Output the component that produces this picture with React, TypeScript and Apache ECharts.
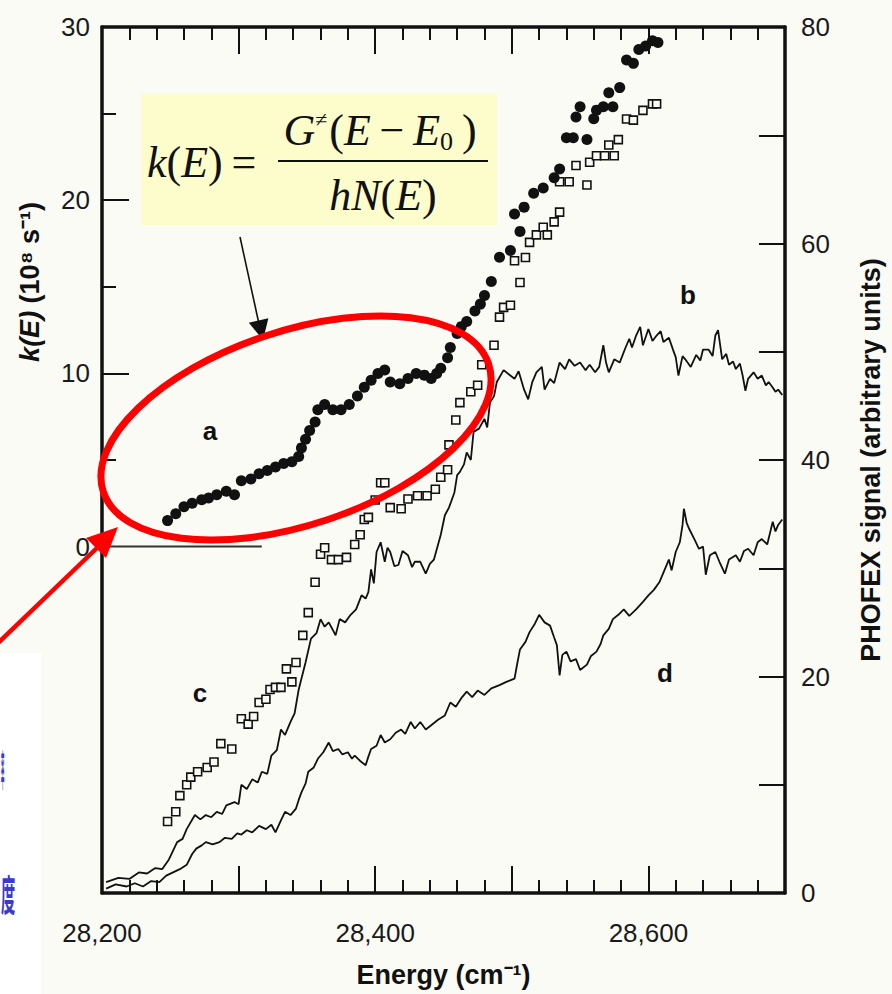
import React, { useEffect, useRef } from "react";
import * as echarts from "echarts";

// ---- tick labels ----
const energyTickLabels = [28200, 28400, 28600];
const kTickLabels = [0, 10, 20, 30];
const kMajorTicks = [10, 20, 30];
const kMinorTicks = [5, 15, 25];
const phofexTickLabels = [0, 20, 40, 60, 80];

// ---- a: k(E), filled circles (left axis, 10^8 s^-1) ----
const seriesA: [number, number][] = [
  [28248, 1.5], [28254, 1.9], [28260, 2.3], [28266, 2.5], [28273, 2.7], [28278, 2.8],
  [28284, 3.0], [28291, 3.2], [28297, 3.0], [28302, 3.8], [28309, 3.9], [28315, 4.2],
  [28321, 4.4], [28327, 4.6], [28333, 4.8], [28339, 4.9], [28344, 5.2], [28346, 5.7],
  [28349, 6.2], [28352, 6.7], [28356, 7.2], [28358, 7.9], [28363, 8.2], [28369, 7.9],
  [28375, 7.9], [28381, 8.2], [28387, 8.7], [28392, 9.2], [28397, 9.6], [28402, 10.0],
  [28407, 10.2], [28411, 9.5], [28418, 9.4], [28424, 9.7], [28430, 10.0], [28436, 9.9],
  [28441, 9.7], [28445, 10.0], [28448, 10.3], [28453, 10.9], [28455, 11.5], [28460, 12.3],
  [28463, 12.7], [28467, 13.0], [28473, 13.6], [28477, 14.0], [28480, 14.5], [28485, 15.3],
  [28491, 16.7], [28499, 17.1], [28502, 19.2], [28506, 18.2], [28509, 19.6], [28516, 20.4],
  [28523, 20.7], [28531, 21.3], [28535, 21.8], [28540, 23.6], [28545, 23.6], [28547, 24.8],
  [28550, 25.4], [28555, 23.5], [28560, 24.7], [28562, 25.2], [28567, 25.4], [28571, 26.2],
  [28574, 25.4], [28579, 26.5], [28584, 28.1], [28589, 27.9], [28593, 28.7], [28598, 28.9],
  [28603, 29.2], [28607, 29.1],
];

// ---- c: open squares (right axis) ----
const seriesC: [number, number][] = [
  [28248, 6.6], [28254, 7.5], [28257, 9.0], [28262, 10.0], [28265, 10.7], [28270, 11.2],
  [28277, 11.6], [28282, 12.1], [28287, 13.8], [28295, 13.3], [28302, 16.1], [28307, 15.6],
  [28311, 16.3], [28315, 17.6], [28320, 17.9], [28323, 18.8], [28327, 19.0], [28331, 19.0],
  [28335, 20.7], [28339, 19.5], [28342, 21.3], [28347, 23.8], [28351, 25.9], [28356, 28.7],
  [28360, 31.3], [28363, 31.9], [28368, 30.8], [28373, 30.8], [28379, 31.0], [28385, 32.2],
  [28389, 33.1], [28392, 34.5], [28395, 34.7], [28400, 36.3], [28404, 37.9], [28407, 37.9],
  [28411, 35.6], [28419, 35.5], [28424, 36.4], [28431, 36.7], [28438, 36.7], [28444, 37.3],
  [28448, 38.4], [28453, 39.1], [28454, 41.4], [28459, 43.7], [28462, 45.3], [28470, 46.3],
  [28475, 46.9], [28478, 48.8], [28487, 50.6], [28491, 53.2], [28494, 54.1], [28499, 54.3],
  [28502, 58.4], [28506, 56.4], [28510, 58.7], [28513, 60.1], [28518, 60.8], [28523, 61.5],
  [28526, 60.8], [28531, 62.0], [28535, 62.9], [28535, 65.7], [28542, 65.7], [28547, 67.2],
  [28555, 65.4], [28557, 67.5], [28562, 68.1], [28568, 68.1], [28571, 69.1], [28575, 68.1],
  [28578, 69.6], [28584, 71.5], [28589, 71.4], [28596, 72.3], [28603, 72.9], [28606, 72.9],
];

// ---- b: upper PHOFEX trace (right axis) ----
const seriesB: [number, number][] = [
  [28203, 1.0], [28212, 1.4], [28220, 1.3], [28227, 1.9], [28233, 1.8], [28239, 2.3],
  [28244, 2.2], [28249, 3.1], [28255, 4.7], [28259, 5.0], [28262, 5.9], [28268, 7.2],
  [28272, 6.8], [28276, 7.2], [28280, 7.0], [28284, 7.5], [28288, 7.3], [28291, 8.1],
  [28297, 8.4], [28300, 8.2], [28302, 10.0], [28306, 9.6], [28310, 10.5], [28314, 10.2],
  [28317, 11.2], [28321, 11.0], [28324, 12.7], [28328, 13.2], [28331, 15.1], [28334, 14.6],
  [28338, 15.8], [28341, 16.6], [28344, 18.8], [28349, 21.3], [28353, 23.5], [28357, 24.0],
  [28360, 25.3], [28363, 24.6], [28366, 25.0], [28369, 24.3], [28371, 23.8], [28374, 25.3],
  [28378, 25.0], [28382, 25.7], [28386, 26.2], [28390, 27.5], [28393, 27.2], [28395, 27.8],
  [28397, 29.9], [28399, 28.6], [28401, 31.5], [28404, 32.4], [28407, 30.6], [28409, 31.9],
  [28411, 31.5], [28414, 30.2], [28417, 30.3], [28420, 31.6], [28424, 31.2], [28427, 30.1],
  [28429, 30.6], [28433, 30.6], [28437, 29.5], [28440, 30.4], [28443, 30.8], [28448, 33.1],
  [28451, 34.9], [28454, 35.6], [28458, 37.0], [28460, 38.6], [28462, 38.9], [28465, 39.6],
  [28467, 40.7], [28470, 40.0], [28472, 42.6], [28476, 42.9], [28480, 43.8], [28482, 43.0],
  [28484, 45.3], [28487, 45.9], [28489, 47.2], [28494, 48.3], [28498, 47.9], [28502, 47.5],
  [28505, 48.2], [28509, 46.5], [28512, 45.6], [28515, 47.2], [28518, 48.1], [28522, 48.6],
  [28524, 46.5], [28528, 47.5], [28531, 47.1], [28535, 49.0], [28539, 48.4], [28542, 49.3],
  [28546, 48.7], [28550, 49.0], [28554, 48.3], [28557, 48.8], [28561, 48.1], [28564, 48.6],
  [28567, 50.6], [28569, 49.0], [28571, 48.1], [28575, 49.3], [28579, 49.0], [28583, 50.3],
  [28586, 51.2], [28588, 50.4], [28591, 51.5], [28594, 52.3], [28596, 50.6], [28600, 52.1],
  [28603, 51.0], [28606, 51.5], [28609, 51.9], [28611, 50.9], [28615, 51.3], [28618, 50.2],
  [28620, 49.5], [28622, 47.8], [28625, 49.6], [28627, 49.3], [28631, 48.6], [28635, 49.7],
  [28638, 49.2], [28640, 50.2], [28644, 50.2], [28647, 49.6], [28649, 51.5], [28651, 52.0],
  [28654, 49.3], [28657, 49.8], [28659, 48.8], [28662, 49.1], [28664, 48.4], [28667, 48.9],
  [28669, 47.8], [28671, 46.4], [28673, 47.5], [28677, 48.1], [28680, 47.5], [28683, 47.8],
  [28686, 46.9], [28688, 47.2], [28691, 46.7], [28693, 46.3], [28695, 46.5], [28698, 46.0],
];

// ---- d: lower PHOFEX trace (right axis) ----
const seriesD: [number, number][] = [
  [28203, 0.4], [28210, 0.8], [28218, 0.6], [28224, 0.9], [28230, 0.6], [28236, 1.1],
  [28242, 1.0], [28247, 1.6], [28252, 1.9], [28257, 2.2], [28262, 2.6], [28266, 3.6],
  [28269, 4.1], [28273, 4.4], [28276, 4.7], [28281, 4.5], [28286, 4.7], [28290, 5.1],
  [28295, 5.0], [28299, 5.5], [28302, 5.4], [28306, 5.8], [28310, 5.6], [28315, 6.2],
  [28320, 5.9], [28324, 6.3], [28327, 5.6], [28331, 6.7], [28334, 7.5], [28338, 7.2],
  [28342, 7.8], [28344, 8.6], [28346, 9.3], [28349, 10.1], [28351, 11.2], [28355, 11.6],
  [28358, 12.4], [28362, 13.0], [28366, 13.9], [28369, 13.1], [28373, 13.3], [28376, 12.8],
  [28380, 13.0], [28383, 12.4], [28385, 12.7], [28389, 12.2], [28393, 11.8], [28395, 12.6],
  [28397, 13.3], [28401, 13.6], [28404, 14.6], [28407, 13.9], [28411, 14.2], [28415, 14.8],
  [28419, 15.1], [28422, 14.7], [28426, 15.8], [28429, 15.2], [28433, 15.8], [28437, 15.1],
  [28441, 15.5], [28446, 16.0], [28451, 16.4], [28455, 17.6], [28459, 17.2], [28463, 18.0],
  [28467, 18.6], [28471, 18.1], [28475, 18.7], [28480, 18.3], [28485, 18.9], [28491, 19.2],
  [28496, 19.5], [28502, 19.8], [28504, 21.2], [28506, 22.5], [28510, 23.2], [28513, 24.1],
  [28517, 24.9], [28520, 25.7], [28524, 25.0], [28528, 24.7], [28531, 23.6], [28533, 22.9],
  [28535, 20.1], [28537, 22.0], [28540, 22.3], [28543, 21.4], [28547, 21.6], [28550, 20.6],
  [28555, 21.1], [28558, 21.9], [28562, 22.3], [28565, 23.0], [28567, 23.8], [28571, 24.4],
  [28574, 25.3], [28578, 25.7], [28582, 26.2], [28586, 25.6], [28591, 26.2], [28596, 26.9],
  [28600, 27.5], [28604, 28.0], [28608, 28.7], [28612, 29.9], [28615, 30.8], [28617, 29.8],
  [28620, 31.5], [28623, 32.4], [28625, 34.0], [28626, 35.5], [28628, 34.2], [28630, 33.6],
  [28634, 32.6], [28637, 31.8], [28640, 32.0], [28642, 29.4], [28645, 31.2], [28649, 31.5],
  [28652, 30.6], [28656, 29.5], [28659, 30.8], [28664, 31.2], [28667, 30.6], [28670, 31.6],
  [28673, 31.8], [28677, 31.2], [28680, 32.4], [28683, 32.7], [28687, 32.2], [28691, 34.3],
  [28693, 33.4], [28695, 34.0], [28698, 34.5],
];

// k(E) = 0 baseline
const kZeroLine: [number, number][] = [[28200, 0], [28317, 0]];

const SANS = "'Liberation Sans', Arial, Helvetica, sans-serif";
const SERIF = "'Liberation Serif', 'Times New Roman', serif";
const CJK = "'Noto Sans CJK SC', sans-serif";
const INK = "#111111";
const BG = "#fbfbf6";

function buildOption(): any {
  const frame = () => ({ show: true, onZero: false, lineStyle: { color: INK, width: 3.5 } });
  const tickStyle = () => ({ color: INK, width: 2 });
  const labelStyle = () => ({ color: "#1a1a1a", fontSize: 26, fontFamily: SANS });

  const xCommon = () => ({
    type: "value",
    min: 28200,
    max: 28700,
    interval: 100,
    axisLine: frame(),
    axisTick: { show: true, inside: true, length: 27, lineStyle: tickStyle() },
    minorTick: { show: true, splitNumber: 5, length: 13, lineStyle: tickStyle() },
    splitLine: { show: false },
    minorSplitLine: { show: false },
  });

  const txt = (x: number, y: number, text: string, extra: any = {}) => ({
    type: "text",
    x,
    y,
    z: 120,
    silent: true,
    style: { text, fill: INK, ...extra },
  });

  const mathRich = {
    i: { fontSize: 44, fontStyle: "italic", fontFamily: SERIF, fill: INK },
    n: { fontSize: 44, fontFamily: SERIF, fill: INK },
    sup: { fontSize: 22, fontFamily: SERIF, fill: INK, padding: [0, 2, 22, 0] },
    sub: { fontSize: 26, fontFamily: SERIF, fill: INK, padding: [22, 0, 0, 0] },
  };

  const letter = { fontSize: 26, fontWeight: "bold", fontFamily: SANS, align: "center", verticalAlign: "middle" };

  return {
    animation: false,
    backgroundColor: BG,
    grid: { left: 102, right: 102, top: 27, bottom: 101, containLabel: false },
    xAxis: [
      {
        ...xCommon(),
        position: "bottom",
        axisLabel: {
          ...labelStyle(),
          customValues: energyTickLabels,
          margin: 27,
          formatter: (v: number) => v.toLocaleString("en-US"),
        },
        name: "Energy (cm⁻¹)",
        nameLocation: "middle",
        nameGap: 68,
        nameTextStyle: { color: INK, fontSize: 27, fontWeight: "bold", fontFamily: SANS },
      },
      {
        ...xCommon(),
        position: "top",
        axisLabel: { show: false },
      },
    ],
    yAxis: [
      {
        type: "value",
        position: "left",
        min: -20,
        max: 30,
        interval: 10,
        axisLine: frame(),
        axisTick: { show: true, inside: true, length: 27, lineStyle: tickStyle(), customValues: kMajorTicks },
        axisLabel: { ...labelStyle(), customValues: kTickLabels, margin: 12 },
        splitLine: { show: false },
      },
      {
        type: "value",
        position: "right",
        min: 0,
        max: 80,
        interval: 10,
        axisLine: frame(),
        axisTick: { show: true, inside: true, length: 26, lineStyle: tickStyle() },
        axisLabel: { ...labelStyle(), customValues: phofexTickLabels, margin: 16 },
        splitLine: { show: false },
        name: "PHOFEX signal (arbitrary units)",
        nameLocation: "middle",
        nameRotate: 90,
        nameGap: 72,
        nameTextStyle: { color: INK, fontSize: 27, fontWeight: "bold", fontFamily: SANS },
      },
      {
        type: "value",
        position: "left",
        offset: 0,
        min: -20,
        max: 30,
        interval: 10,
        axisLine: { show: false, onZero: false },
        axisTick: { show: true, inside: true, length: 14, lineStyle: tickStyle(), customValues: kMinorTicks },
        axisLabel: { show: false },
        splitLine: { show: false },
      },
    ],
    series: [
      {
        name: "k(E) = 0",
        type: "line",
        xAxisIndex: 0,
        yAxisIndex: 0,
        data: kZeroLine,
        showSymbol: false,
        silent: true,
        lineStyle: { color: "#333", width: 2 },
        z: 1,
      },
      {
        name: "b",
        type: "line",
        xAxisIndex: 0,
        yAxisIndex: 1,
        data: seriesB,
        showSymbol: false,
        silent: true,
        lineStyle: { color: INK, width: 1.8 },
        z: 2,
      },
      {
        name: "d",
        type: "line",
        xAxisIndex: 0,
        yAxisIndex: 1,
        data: seriesD,
        showSymbol: false,
        silent: true,
        lineStyle: { color: INK, width: 1.8 },
        z: 2,
      },
      {
        name: "c",
        type: "scatter",
        xAxisIndex: 0,
        yAxisIndex: 1,
        data: seriesC,
        symbol: "rect",
        symbolSize: 8,
        silent: true,
        itemStyle: { color: BG, borderColor: INK, borderWidth: 1.6, opacity: 1 },
        z: 3,
      },
      {
        name: "a",
        type: "scatter",
        xAxisIndex: 0,
        yAxisIndex: 0,
        data: seriesA,
        symbol: "circle",
        symbolSize: 11,
        silent: true,
        itemStyle: { color: INK, opacity: 1 },
        z: 4,
      },
    ],
    graphic: [
      // white strip with the edge of blue characters at the far left
      { type: "rect", z: 1, silent: true, shape: { x: 0, y: 653, width: 41, height: 341 }, style: { fill: "#ffffff" } },
      {
        type: "text", x: 1, y: 768, scaleX: 0.08, z: 5, silent: true,
        style: { text: "率", fontSize: 42, fontWeight: "bold", fontFamily: CJK, fill: "#3a3acc", verticalAlign: "middle" },
      },
      {
        type: "text", x: 1, y: 893, scaleX: 0.34, z: 5, silent: true,
        style: { text: "度", fontSize: 42, fontWeight: "bold", fontFamily: CJK, fill: "#3a3acc", verticalAlign: "middle" },
      },
      // left axis title
      {
        type: "text", x: 30, y: 282, rotation: Math.PI / 2, z: 120, silent: true,
        style: {
          text: "{i|k(E)} (10⁸ s⁻¹)",
          fontSize: 27, fontWeight: "bold", fontFamily: SANS, fill: INK,
          align: "center", verticalAlign: "middle",
          rich: { i: { fontSize: 27, fontWeight: "bold", fontStyle: "italic", fontFamily: SANS, fill: INK } },
        },
      },
      // curve labels
      txt(210, 431, "a", letter),
      txt(688, 295, "b", letter),
      txt(200, 693, "c", letter),
      txt(665, 673, "d", letter),
      // formula box
      { type: "rect", z: 110, silent: true, shape: { x: 141, y: 94, width: 356, height: 131 }, style: { fill: "#fdfdcc" } },
      txt(147, 162, "{i|k}{n|(}{i|E}{n|)\u2009=}", { align: "left", verticalAlign: "middle", rich: mathRich }),
      txt(380, 130, "{i|G}{sup|≠}{n|(}{i|E}{n|\u2009−\u2009}{i|E}{sub|0}{n|\u2009)}", {
        align: "center", verticalAlign: "middle", rich: mathRich,
      }),
      { type: "line", z: 120, silent: true, shape: { x1: 278, y1: 161, x2: 488, y2: 161 }, style: { stroke: INK, lineWidth: 2 } },
      txt(383, 195, "{i|hN}{n|(}{i|E}{n|)}", { align: "center", verticalAlign: "middle", rich: mathRich }),
      // black arrow from formula to ellipse
      { type: "line", z: 120, silent: true, shape: { x1: 240, y1: 237, x2: 259, y2: 324 }, style: { stroke: INK, lineWidth: 1.6 } },
      { type: "polygon", z: 120, silent: true, shape: { points: [[263, 340], [268.4, 318.3], [248.8, 322.7]] }, style: { fill: INK } },
      // red ellipse
      {
        type: "ellipse", x: 296, y: 428, rotation: 0.32, z: 130, silent: true,
        shape: { cx: 0, cy: 0, rx: 203, ry: 97 },
        style: { fill: "none", stroke: "#ff0000", lineWidth: 7 },
      },
      // red arrow
      { type: "line", z: 130, silent: true, shape: { x1: -5, y1: 646, x2: 100, y2: 545 }, style: { stroke: "#ff0000", lineWidth: 4.5 } },
      { type: "polygon", z: 130, silent: true, shape: { points: [[118, 527], [106, 558], [86, 538]] }, style: { fill: "#ff0000" } },
    ],
  };
}

export default function App() {
  const ref = useRef<HTMLDivElement>(null);
  useEffect(() => {
    if (!ref.current) return;
    const chart = echarts.init(ref.current, null, { renderer: "svg" });
    chart.setOption(buildOption());
    return () => chart.dispose();
  }, []);
  return (
    <div
      ref={ref}
      style={{ position: "fixed", left: 0, top: 0, width: 892, height: 994 }}
    />
  );
}
